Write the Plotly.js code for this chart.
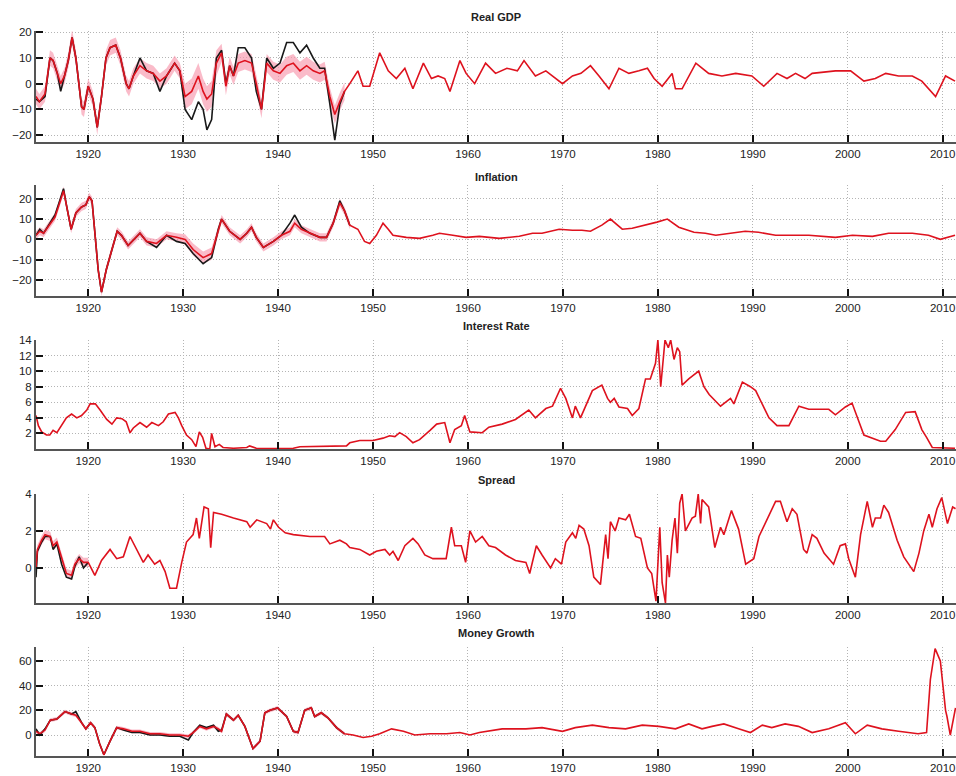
<!DOCTYPE html>
<html>
<head>
<meta charset="utf-8">
<script src="https://cdn.plot.ly/plotly-3.0.1.min.js"></script>
<style>html,body{margin:0;padding:0;background:#fff}#chart{width:956px;height:776px}</style>
</head>
<body>
<div id="chart"></div>
<script>
// ---------- Real GDP ----------
const gdpYearsEarly = [1914.5,1914.85,1915.45,1915.97,1916.3,1916.75,1917.1,1917.5,1917.9,1918.3,1918.7,1919.3,1919.55,1920.0,1920.5,1920.95,1921.4,1921.87,1922.3,1922.9,1923.4,1924.0,1924.3,1924.75,1925.45,1926.15,1926.85,1927.55,1928.25,1929.1,1929.65,1930.2,1930.9,1931.6,1932.1,1932.5,1933.0,1933.5,1934.05,1934.5,1934.9,1935.3,1935.8,1936.5,1937.2,1937.7,1938.25,1938.8,1939.5,1940.2,1940.9,1941.6,1942.3,1943.0,1943.7,1944.4,1944.9,1945.45,1945.97,1946.5,1947.0];
const gdpEstEarly = [-5,-7,-4,10,9,4,0,3,9,18,10,-9,-10,-1,-6,-17,-5,10,14,15,10,0,-2,3,7,5,4,1,3,8,5,-5,-3,3,-3,-6,-4,8,12,-1,7,3,8,9,8,0,-10,8,5,4,7,8,5,7,5,4,5,-5,-12,-7,-3];
const gdpActualEarly = [-6,-7,-5,10,9,4,-3,3,9,18,10,-9,-10,-1,-6,-17,-5,10,14,15,10,0,-2,3,10,5,4,-3,3,8,5,-10,-14,-7,-10,-18,-14,10,13,0,7,3,14,14,10,-3,-10,10,6,8,16,16,12,15,10,6,6,-8,-22,-8,-3];
const gdpBandHalf = [3,3,3,3,3,3,3,3,3,3,3,3,3,3,3,3,3,3,3,3,3,3,3,3,3,3,3,3,3,3,3,5,5,5,5,5,5,5,3.5,3.5,3.5,3.5,3.5,3.5,3.5,3.5,3.5,3.5,3.5,3.5,3.5,3.5,3.5,3.5,3.5,3.5,3.5,3.5,3.5,3.5,3.5];
const gdpYearsLate = [1947.55,1948.4,1948.95,1949.65,1950.7,1951.6,1952.45,1953.35,1954.2,1955.3,1956.15,1956.85,1957.55,1958.1,1959.15,1959.8,1960.7,1961.85,1962.9,1964.1,1965.2,1965.9,1967.1,1968.2,1969.95,1971.0,1971.9,1972.9,1973.8,1974.85,1975.9,1976.95,1978.0,1978.9,1979.6,1980.45,1981.5,1981.85,1982.55,1984.0,1985.35,1986.75,1988.2,1989.9,1991.15,1992.55,1993.6,1994.5,1995.5,1996.25,1998.7,2000.3,2001.7,2002.9,2004.0,2005.35,2006.8,2007.8,2009.25,2010.3,2011.3];
const gdpEstLate = [0,5,-1,-1,12,5,2,6,-2,8,2,3,2,-3,9,4,0,8,4,6,5,9,3,5,0,3,4,7,3,-2,6,4,5,6,2,-1,4,-2,-2,8,4,3,4,3,-1,4,2,4,2,4,5,5,1,2,4,3,3,1,-5,3,1];

// ---------- Inflation ----------
const infYearsEarly = [1914.5,1914.9,1915.3,1916.0,1916.5,1916.85,1917.4,1917.7,1918.2,1918.7,1919.3,1919.75,1920.1,1920.4,1920.7,1921.05,1921.4,1921.9,1922.5,1923.05,1923.5,1924.2,1925.45,1926.15,1927.2,1928.25,1929.3,1930.2,1931.05,1932.1,1933.0,1933.7,1934.05,1934.9,1936.0,1936.7,1937.2,1937.7,1938.45,1939.5,1940.35,1941.25,1941.75,1942.45,1943.35,1944.4,1945.1,1945.8,1946.5,1947.0,1947.55];
const infEstEarly = [2,4,3,8,11,16,24,17,5,13,16,17,21,19,5,-15,-26,-15,-5,4,2,-3,3,-1,-2,2,1,0,-5,-9,-7,5,10,4,0,3,6,1,-4,-1,2,4,8,5,3,1,1,8,18,14,7];
const infActualEarly = [2,5,3,8,12,17,25,17,5,13,16,17,21,19,5,-15,-26,-15,-5,4,2,-3,3,-1,-4,2,-1,-2,-7,-12,-9,5,10,4,0,3,6,1,-4,-1,2,8,12,6,3,1,1,8,19,14,7];
const infBandHalf = [2,2,2,2,2,2,2,2,2,2,2,2,2,2,2,2,2,2,2,2,2,2,2,2,2,2,2,2.5,3,3,3,2.5,2,2,2,2,2,2,2,2,2,2,2,2,2,2,2,2,2,2,2];
const infYearsLate = [1948.4,1949.1,1949.65,1950.35,1951.05,1951.6,1952.1,1953.5,1954.9,1956.3,1957.0,1958.4,1959.8,1961.2,1963.3,1965.4,1966.8,1967.8,1969.6,1971.0,1972.0,1972.9,1974.1,1975.0,1976.25,1977.3,1978.7,1979.9,1981.0,1982.2,1983.8,1985.0,1986.1,1987.8,1989.2,1990.6,1992.4,1995.9,1998.7,2000.5,2002.6,2004.3,2006.8,2008.5,2009.75,2011.3];
const infEstLate = [5,-1,-2,2,8,5,2,1,0.5,2,3,2,1,1.5,0.5,1.5,3,3,5,4.5,4.5,4,7,10,5,5.5,7,8.5,10,6,3.5,3,2,3,4,3.5,2,2,1,2,1.5,3,3,2,0,2];

// ---------- Interest Rate ----------
const rateYears = [1914.5,1914.75,1915.1,1915.6,1915.95,1916.3,1916.7,1917.2,1917.7,1918.25,1918.8,1919.3,1919.85,1920.2,1920.75,1921.25,1921.95,1922.5,1923.0,1923.55,1924.0,1924.4,1924.75,1925.45,1926.15,1926.7,1927.4,1927.9,1928.45,1929.15,1929.5,1929.85,1930.35,1930.9,1931.35,1931.7,1932.05,1932.4,1932.8,1933.0,1933.35,1933.8,1934.2,1935.3,1936.7,1937.0,1937.7,1939.5,1941.6,1942.3,1947.2,1947.55,1948.6,1950.0,1951.05,1951.75,1952.3,1952.8,1953.5,1954.2,1954.9,1956.0,1956.7,1957.55,1958.1,1958.6,1959.3,1959.65,1960.2,1961.5,1962.2,1963.6,1965.0,1966.4,1967.1,1968.2,1968.9,1969.75,1970.3,1971.0,1971.3,1971.85,1973.1,1974.1,1974.7,1975.0,1975.4,1975.9,1976.8,1977.3,1978.0,1978.7,1979.2,1979.75,1980.0,1980.3,1980.75,1981.1,1981.35,1981.7,1982.05,1982.3,1982.55,1983.25,1984.3,1984.85,1985.4,1986.6,1987.65,1988.0,1988.9,1989.75,1990.3,1991.7,1992.55,1993.8,1994.85,1995.9,1998.0,1998.7,1999.75,2000.45,2001.0,2001.7,2003.45,2004.0,2005.0,2006.1,2007.1,2007.8,2008.3,2008.9,2011.3];
const rateValues = [4.3,3,2.2,1.8,1.8,2.4,2.1,3,4,4.5,4,4.3,5,5.8,5.8,5,3.8,3.2,4,3.9,3.5,2.1,2.7,3.4,2.8,3.4,3,3.5,4.5,4.7,4,3,1.8,1.2,0.3,2.2,1.5,0.1,0,2,0.3,0.6,0.2,0.1,0.2,0.4,0.1,0.05,0.1,0.3,0.4,0.8,1.1,1.1,1.4,1.7,1.6,2.1,1.6,0.8,1.2,2.4,3.2,3.4,0.8,2.5,3,4.3,2.2,2.1,2.8,3.2,3.8,5,4,5.2,5.5,7.8,6.5,4,5.5,4,7.5,8.2,6.5,6,6.5,5.4,5.2,4.3,5.2,9,9,11,14,8,14,13,14,11.5,13,12.5,8.2,9,10,8,7,5.5,6.5,5.8,8.6,8,7.5,4,3,3,5.5,5.1,5.1,4.4,5.4,5.9,4,1.8,1,1,2.5,4.7,4.8,2.5,1.5,0.2,0.1];

// ---------- Spread ----------
const sprYearsEarly = [1914.5,1914.65,1915.1,1915.45,1916.0,1916.3,1916.7,1917.2,1917.7,1918.25,1918.6,1919.05,1919.5,1920.0];
const sprEstEarly = [0,1,1.5,1.8,1.7,1.2,1.4,0.5,-0.3,-0.4,0.2,0.5,0.3,0.3];
const sprActualEarly = [-0.5,0.9,1.4,1.7,1.7,1.0,1.3,0.2,-0.5,-0.6,0.1,0.6,0.0,0.3];
const sprBandHalf = [0.25,0.25,0.25,0.25,0.25,0.25,0.25,0.25,0.25,0.25,0.25,0.25,0.25,0.25];
const sprYearsLate = [1920.7,1921.4,1922.3,1923.0,1923.7,1924.4,1925.1,1925.8,1926.3,1927.0,1927.55,1928.1,1928.6,1929.3,1929.85,1930.35,1931.05,1931.4,1931.7,1932.2,1932.65,1932.9,1933.2,1934.05,1935.3,1936.7,1937.05,1937.75,1938.8,1939.2,1939.5,1940.05,1940.75,1941.6,1943.35,1944.9,1945.45,1946.5,1947.2,1947.55,1948.6,1949.65,1950.35,1951.25,1951.75,1952.1,1952.65,1953.35,1954.2,1954.75,1955.45,1956.3,1957.4,1957.7,1958.25,1958.6,1959.3,1959.75,1960.2,1960.8,1961.5,1962.2,1962.9,1963.95,1965.0,1966.1,1966.5,1967.2,1967.8,1968.7,1969.2,1969.85,1970.3,1971.0,1971.35,1971.7,1972.2,1972.75,1973.25,1973.95,1974.5,1974.75,1975.0,1975.5,1975.9,1976.6,1977.0,1977.65,1978.2,1978.9,1979.35,1979.8,1980.2,1980.45,1980.8,1981.0,1981.2,1981.5,1981.8,1982.05,1982.3,1982.55,1982.9,1983.6,1983.95,1984.25,1984.5,1984.65,1985.35,1986.0,1986.6,1986.95,1987.75,1988.5,1989.25,1990.1,1990.65,1991.5,1992.4,1992.9,1993.6,1994.15,1994.65,1995.35,1995.7,1996.25,1996.75,1997.5,1998.5,1999.2,1999.75,2000.1,2000.8,2001.35,2002.05,2002.6,2002.9,2003.45,2003.8,2004.3,2005.2,2005.9,2006.95,2007.5,2008.0,2008.55,2008.9,2009.4,2009.9,2010.5,2011.05,2011.35];
const sprEstLate = [-0.4,0.4,1,0.5,0.6,1.7,1,0.3,0.7,0.2,0.4,-0.2,-1.1,-1.1,0.3,1.4,1.8,2.7,1.6,3.3,3.2,1.1,3,2.9,2.7,2.5,2.2,2.6,2.4,2.1,2.6,2.2,1.9,1.8,1.7,1.7,1.3,1.5,1.3,1.1,1,0.7,0.9,1,0.7,0.9,0.4,1.2,1.6,1.3,0.7,0.5,0.5,0.5,2.2,1.2,1.2,0.3,2,1.4,1.7,1.2,1.1,0.7,0.4,0.3,-0.3,1.2,0.7,0,0.5,0.2,1.4,1.9,1.6,2.3,2.1,1.2,-0.5,-0.9,1.8,0.5,2.5,2,2.7,2.6,2.9,1.7,1.6,0,-0.3,-1.8,2.2,-0.8,-1.9,0.7,-0.5,1.5,2.7,0.8,3.5,4,2,2.7,2.8,4,2.4,3.7,3.3,1.1,2.2,1.8,3.1,2.1,0.2,0.5,1.7,2.6,3.6,3.6,2.5,3.2,2.9,1,0.8,1.8,1.6,0.8,0.2,1.2,1.3,0.5,-0.5,1.8,3.6,2.2,2.7,2.7,3.4,3,1.5,0.6,-0.2,0.8,2,2.9,2.2,3.2,3.8,2.4,3.3,3.2];

// ---------- Money Growth ----------
const monYearsEarly = [1914.5,1914.9,1915.45,1916.0,1916.7,1917.55,1918.25,1918.7,1919.3,1919.75,1920.25,1920.7,1921.2,1921.65,1922.3,1923.0,1923.7,1924.6,1925.45,1926.5,1927.55,1928.6,1929.65,1930.55,1931.05,1931.75,1932.45,1933.2,1933.7,1934.05,1934.55,1935.3,1935.8,1936.5,1937.35,1938.1,1938.6,1939.15,1939.95,1940.9,1941.6,1942.1,1942.8,1943.5,1943.85,1944.55,1945.25,1946.15,1947.0];
const monEstEarly = [3,1,4,12,13,19,17,16,10,5,10,6,-7,-16,-5,6,5,3,3,1,1,0,0,-1,2,7,5,7,5,3,17,12,16,7,-11,-5,18,20,22,15,3,2,20,22,15,18,14,6,1];
const monActualEarly = [5,0,5,12,13,19,17,19,10,5,10,6,-7,-16,-5,6,4,2,2,0,0,-1,-1,-4,2,8,6,8,3,4,17,12,16,7,-11,-5,18,20,22,15,3,2,20,22,15,18,14,6,1];
const monBandHalf = [1.5,1.5,1.5,1.5,1.5,1.5,1.5,1.5,1.5,1.5,1.5,1.5,1.5,1.5,1.5,1.5,1.5,1.5,1.5,1.5,1.5,1.5,1.5,1.5,1.5,1.5,1.5,1.5,1.5,1.5,1.5,1.5,1.5,1.5,1.5,1.5,1.5,1.5,1.5,1.5,1.5,1.5,1.5,1.5,1.5,1.5,1.5,1.5,1.5];
const monYearsLate = [1947.9,1948.95,1949.85,1950.7,1951.95,1953.2,1954.4,1956.0,1957.75,1959.15,1960.2,1961.2,1962.2,1963.6,1966.1,1967.8,1969.95,1971.3,1973.1,1974.85,1976.6,1978.35,1980.1,1981.85,1983.25,1984.65,1985.7,1986.95,1988.5,1989.75,1991.0,1992.0,1993.4,1994.8,1996.25,1998.0,1999.75,2000.8,2002.05,2003.6,2005.35,2007.4,2008.3,2008.7,2009.2,2009.75,2010.3,2010.45,2010.8,2011.35];
const monEstLate = [0,-2,-1,1,5,3,0,1,1,2,0,2,3,5,5,6,3,6,8,6,5,8,7,5,9,5,7,9,5,2,8,6,9,7,2,5,10,1,8,5,3,1,2,45,70,60,20,15,0,22];

// ---------- Panel setup ----------
const panelTitles = ["Real GDP", "Inflation", "Interest Rate", "Spread", "Money Growth"];
const yTickVals = [[-20,-10,0,10,20],[-20,-10,0,10,20],[2,4,6,8,10,12,14],[0,2,4],[0,20,40,60]];
const yRanges = [[-22.7,20.5],[-27.9,26.8],[0,14],[-1.9,4.0],[-17,71.3]];
const xRange = [1914.5, 2011.4];
const domains = [[0.8469,1.0],[0.6345,0.7876],[0.4234,0.5738],[0.2110,0.3614],[0,0.1503]];
const titleY = [1.019,0.7986,0.5931,0.3807,0.1697];

const RED = 'rgb(222,18,30)';
const BLACK = 'rgb(25,25,25)';
const PINK = 'rgba(248,150,172,0.65)';

const panels = [
  {early:[gdpYearsEarly,gdpEstEarly,gdpActualEarly,gdpBandHalf], late:[gdpYearsLate,gdpEstLate]},
  {early:[infYearsEarly,infEstEarly,infActualEarly,infBandHalf], late:[infYearsLate,infEstLate]},
  {early:null, late:[rateYears,rateValues]},
  {early:[sprYearsEarly,sprEstEarly,sprActualEarly,sprBandHalf], late:[sprYearsLate,sprEstLate]},
  {early:[monYearsEarly,monEstEarly,monActualEarly,monBandHalf], late:[monYearsLate,monEstLate]}
];

const traces = [];
panels.forEach((p, i) => {
  const xa = i === 0 ? 'x' : 'x' + (i + 1);
  const ya = i === 0 ? 'y' : 'y' + (i + 1);
  let rx = [], ry = [];
  if (p.early) {
    const [ex, est, act, w] = p.early;
    traces.push({x: ex, y: est.map((v, k) => v - w[k]), xaxis: xa, yaxis: ya, mode: 'lines',
      line: {width: 0, color: PINK}, showlegend: false, hoverinfo: 'skip'});
    traces.push({x: ex, y: est.map((v, k) => v + w[k]), xaxis: xa, yaxis: ya, mode: 'lines',
      line: {width: 0, color: PINK}, fill: 'tonexty', fillcolor: PINK, showlegend: false, hoverinfo: 'skip'});
    traces.push({x: ex, y: act, xaxis: xa, yaxis: ya, mode: 'lines',
      line: {width: 1.6, color: BLACK}, showlegend: false});
    rx = rx.concat(ex); ry = ry.concat(est);
  }
  rx = rx.concat(p.late[0]); ry = ry.concat(p.late[1]);
  traces.push({x: rx, y: ry, xaxis: xa, yaxis: ya, mode: 'lines',
    line: {width: 1.6, color: RED}, showlegend: false});
});

const tickFont = {family: 'Liberation Sans, Arial, sans-serif', size: 11.5, color: '#222'};
const layout = {
  width: 956, height: 776,
  margin: {l: 36, r: 0, t: 31, b: 20},
  paper_bgcolor: '#fff', plot_bgcolor: '#fff',
  showlegend: false,
  annotations: []
};
for (let i = 0; i < 5; i++) {
  const s = i === 0 ? '' : String(i + 1);
  layout['xaxis' + s] = {
    domain: [0, 1], anchor: 'y' + s, range: xRange,
    tick0: 1920, dtick: 10, ticks: 'inside', ticklen: 7, tickwidth: 2, tickcolor: '#111',
    showline: true, linecolor: '#555', linewidth: 2,
    showgrid: true, gridcolor: '#b4b4b4', gridwidth: 1, griddash: '1px,2px',
    zeroline: false, tickfont: tickFont, fixedrange: true
  };
  layout['yaxis' + s] = {
    domain: domains[i], anchor: 'x' + s, range: yRanges[i],
    tickmode: 'array', tickvals: yTickVals[i],
    ticks: 'inside', ticklen: 7, tickwidth: 2, tickcolor: '#111',
    showline: true, linecolor: '#555', linewidth: 2,
    showgrid: true, gridcolor: '#b4b4b4', gridwidth: 1, griddash: '1px,2px',
    zeroline: false, tickfont: tickFont, fixedrange: true
  };
  layout.annotations.push({
    text: '<b>' + panelTitles[i] + '</b>', xref: 'paper', yref: 'paper',
    x: 0.5, y: titleY[i], xanchor: 'center', yanchor: 'middle', showarrow: false,
    font: {family: 'Liberation Sans, Arial, sans-serif', size: 11, color: '#222'}
  });
}
Plotly.newPlot('chart', traces, layout, {staticPlot: true, displayModeBar: false});
</script>
</body>
</html>
